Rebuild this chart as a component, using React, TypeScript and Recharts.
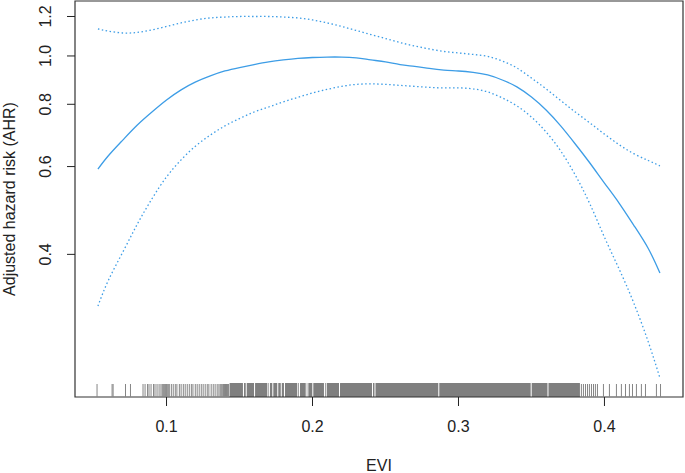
import {
  ComposedChart,
  Line,
  Scatter,
  XAxis,
  YAxis,
  ReferenceArea,
  Label,
} from 'recharts'

// EVI grid and fitted hazard ratio with 95% CI (log y scale)
const evi = [
  0.053, 0.06, 0.07, 0.08, 0.09, 0.1, 0.11, 0.12, 0.13, 0.14, 0.15, 0.16, 0.17, 0.18, 0.19, 0.2, 0.21, 0.22, 0.23,
  0.24, 0.25, 0.26, 0.27, 0.28, 0.29, 0.3, 0.31, 0.32, 0.33, 0.34, 0.35, 0.36, 0.37, 0.38, 0.39, 0.4, 0.41, 0.42,
  0.43, 0.438,
]
const fit = [
  0.593, 0.63, 0.678, 0.727, 0.772, 0.816, 0.855, 0.887, 0.912, 0.933, 0.948, 0.961, 0.973, 0.982, 0.989, 0.993,
  0.995, 0.995, 0.991, 0.982, 0.973, 0.961, 0.953, 0.944, 0.937, 0.933, 0.927, 0.916, 0.895, 0.867, 0.827, 0.779,
  0.724, 0.666, 0.61, 0.556, 0.507, 0.458, 0.411, 0.367,
]
const upper = [
  1.133, 1.122, 1.112, 1.115, 1.128, 1.146, 1.165, 1.181, 1.192, 1.197, 1.2, 1.2, 1.2, 1.197, 1.192, 1.181,
  1.165, 1.146, 1.125, 1.104, 1.084, 1.064, 1.047, 1.033, 1.021, 1.014, 1.007, 0.998, 0.977, 0.946, 0.903, 0.859,
  0.814, 0.772, 0.734, 0.697, 0.664, 0.637, 0.617, 0.602,
]
const lower = [
  0.315, 0.354, 0.404, 0.46, 0.517, 0.572, 0.619, 0.66, 0.694, 0.724, 0.749, 0.772, 0.79, 0.809, 0.826, 0.843,
  0.857, 0.869, 0.877, 0.879, 0.877, 0.873, 0.869, 0.865, 0.863, 0.863, 0.859, 0.847, 0.824, 0.794, 0.754, 0.704,
  0.645, 0.577, 0.505, 0.433, 0.374, 0.32, 0.267, 0.226,
]

// rug: single observations, plus the dense band with its few empty gaps
const rugTicks = [
  0.0524, 0.0627, 0.0634, 0.0719, 0.0753, 0.0839, 0.0853, 0.087, 0.088, 0.0894, 0.0911, 0.0921, 0.0935, 0.0949,
  0.0962, 0.0971, 0.0978, 0.0985, 0.0992, 0.0999, 0.1005, 0.1012, 0.1019, 0.1033, 0.1046, 0.106, 0.1071, 0.1088,
  0.11, 0.1115, 0.1128, 0.1142, 0.1156, 0.117, 0.1181, 0.1197, 0.121, 0.1224, 0.1238, 0.1251, 0.1265, 0.1279,
  0.129, 0.1306, 0.132, 0.1333, 0.1347, 0.1359, 0.1368, 0.1375, 0.1382, 0.139, 0.1397, 0.1404, 0.1411, 0.1418,
  0.1425, 0.3842, 0.3856, 0.387, 0.3884, 0.3897, 0.3911, 0.3925, 0.3938, 0.3952, 0.3993, 0.4034, 0.4082, 0.4116,
  0.4144, 0.4171, 0.4192, 0.4219, 0.4253, 0.4281, 0.4356, 0.4384,
]
const rugBand = [0.1432, 0.3832]
const rugGaps = [
  0.1527, 0.1546, 0.1603, 0.1694, 0.1705, 0.1728, 0.1762, 0.1786, 0.1808, 0.1899, 0.1911, 0.1957, 0.1968, 0.2002,
  0.2082, 0.2094, 0.2185, 0.2411, 0.2428, 0.2865, 0.3498, 0.3613,
]

const xTicks = [0.1, 0.2, 0.3, 0.4]
const yTicks = [0.4, 0.6, 0.8, 1.0, 1.2]
const X_DOMAIN = [0.0373, 0.4538]
const Y_DOMAIN = [0.207, 1.289]
const RUG_TOP = 0.2208

const BLUE = '#3d9de6'
const INK = '#222'
const FONT = '"Liberation Sans", Arial, sans-serif'

const data = evi.map((x, i) => ({ x, fit: fit[i], lo: lower[i], hi: upper[i] }))
const rugData = rugTicks.map((x) => ({ x, y: Y_DOMAIN[0] }))

// split the dense band into solid pieces around the gaps
const halfGap = 0.00035
const bandPieces: number[][] = []
let start = rugBand[0]
rugGaps.forEach((g) => {
  bandPieces.push([start, g - halfGap])
  start = g + halfGap
})
bandPieces.push([start, rugBand[1]])

const RugTick = (props: any) => {
  const { cx, cy } = props
  return <line x1={cx} x2={cx} y1={cy - 13} y2={cy} stroke="#858585" strokeWidth={1} />
}

const YTick = ({ y, payload }: any) => (
  <text
    x={51}
    y={y}
    transform={`rotate(-90 51 ${y})`}
    textAnchor="middle"
    fill={INK}
    fontSize={16}
    fontFamily={FONT}
  >
    {payload.value.toFixed(1)}
  </text>
)

const XTick = ({ x, payload }: any) => (
  <text x={x} y={432} textAnchor="middle" fill={INK} fontSize={16} fontFamily={FONT}>
    {payload.value.toFixed(1)}
  </text>
)

export default function App() {
  return (
    <div style={{ position: 'absolute', left: 0, top: 0, background: '#fff' }}>
      <ComposedChart width={685} height={473} data={data} margin={{ top: 1, right: 2, bottom: 0, left: 0 }}>
        <XAxis
          dataKey="x"
          type="number"
          domain={X_DOMAIN}
          ticks={xTicks}
          allowDataOverflow
          height={76}
          axisLine={false}
          tickLine={{ stroke: INK }}
          tickSize={9}
          tick={<XTick />}
        >
          <Label
            content={({ viewBox }: any) => (
              <text
                x={viewBox.x + viewBox.width / 2}
                y={viewBox.y + 74}
                textAnchor="middle"
                fill={INK}
                fontSize={16}
                fontFamily={FONT}
              >
                EVI
              </text>
            )}
          />
        </XAxis>
        <YAxis
          type="number"
          scale="log"
          domain={Y_DOMAIN}
          ticks={yTicks}
          allowDataOverflow
          width={75}
          axisLine={false}
          tickLine={{ stroke: INK }}
          tickSize={8}
          tick={<YTick />}
        >
          <Label
            content={({ viewBox }: any) => {
              const cy = viewBox.y + viewBox.height / 2
              return (
                <text
                  x={15}
                  y={cy}
                  transform={`rotate(-90 15 ${cy})`}
                  textAnchor="middle"
                  fill={INK}
                  fontSize={16}
                  fontFamily={FONT}
                >
                  Adjusted hazard risk (AHR)
                </text>
              )
            }}
          />
        </YAxis>
        {bandPieces.map((p, i) => (
          <ReferenceArea
            key={`band-${i}`}
            x1={p[0]}
            x2={p[1]}
            y1={Y_DOMAIN[0]}
            y2={RUG_TOP}
            fill="#7f7f7f"
            fillOpacity={1}
            stroke="none"
          />
        ))}
        <Scatter data={rugData} dataKey="y" shape={<RugTick />} isAnimationActive={false} />
        <Line
          type="natural"
          dataKey="hi"
          stroke={BLUE}
          strokeWidth={1.3}
          strokeDasharray="1.5 2.5"
          dot={false}
          isAnimationActive={false}
        />
        <Line type="natural" dataKey="fit" stroke={BLUE} strokeWidth={1.3} dot={false} isAnimationActive={false} />
        <Line
          type="natural"
          dataKey="lo"
          stroke={BLUE}
          strokeWidth={1.3}
          strokeDasharray="1.5 2.5"
          dot={false}
          isAnimationActive={false}
        />
        <ReferenceArea
          x1={X_DOMAIN[0]}
          x2={X_DOMAIN[1]}
          y1={Y_DOMAIN[0]}
          y2={Y_DOMAIN[1]}
          fill="none"
          stroke="#333"
          strokeWidth={1.2}
        />
      </ComposedChart>
    </div>
  )
}
